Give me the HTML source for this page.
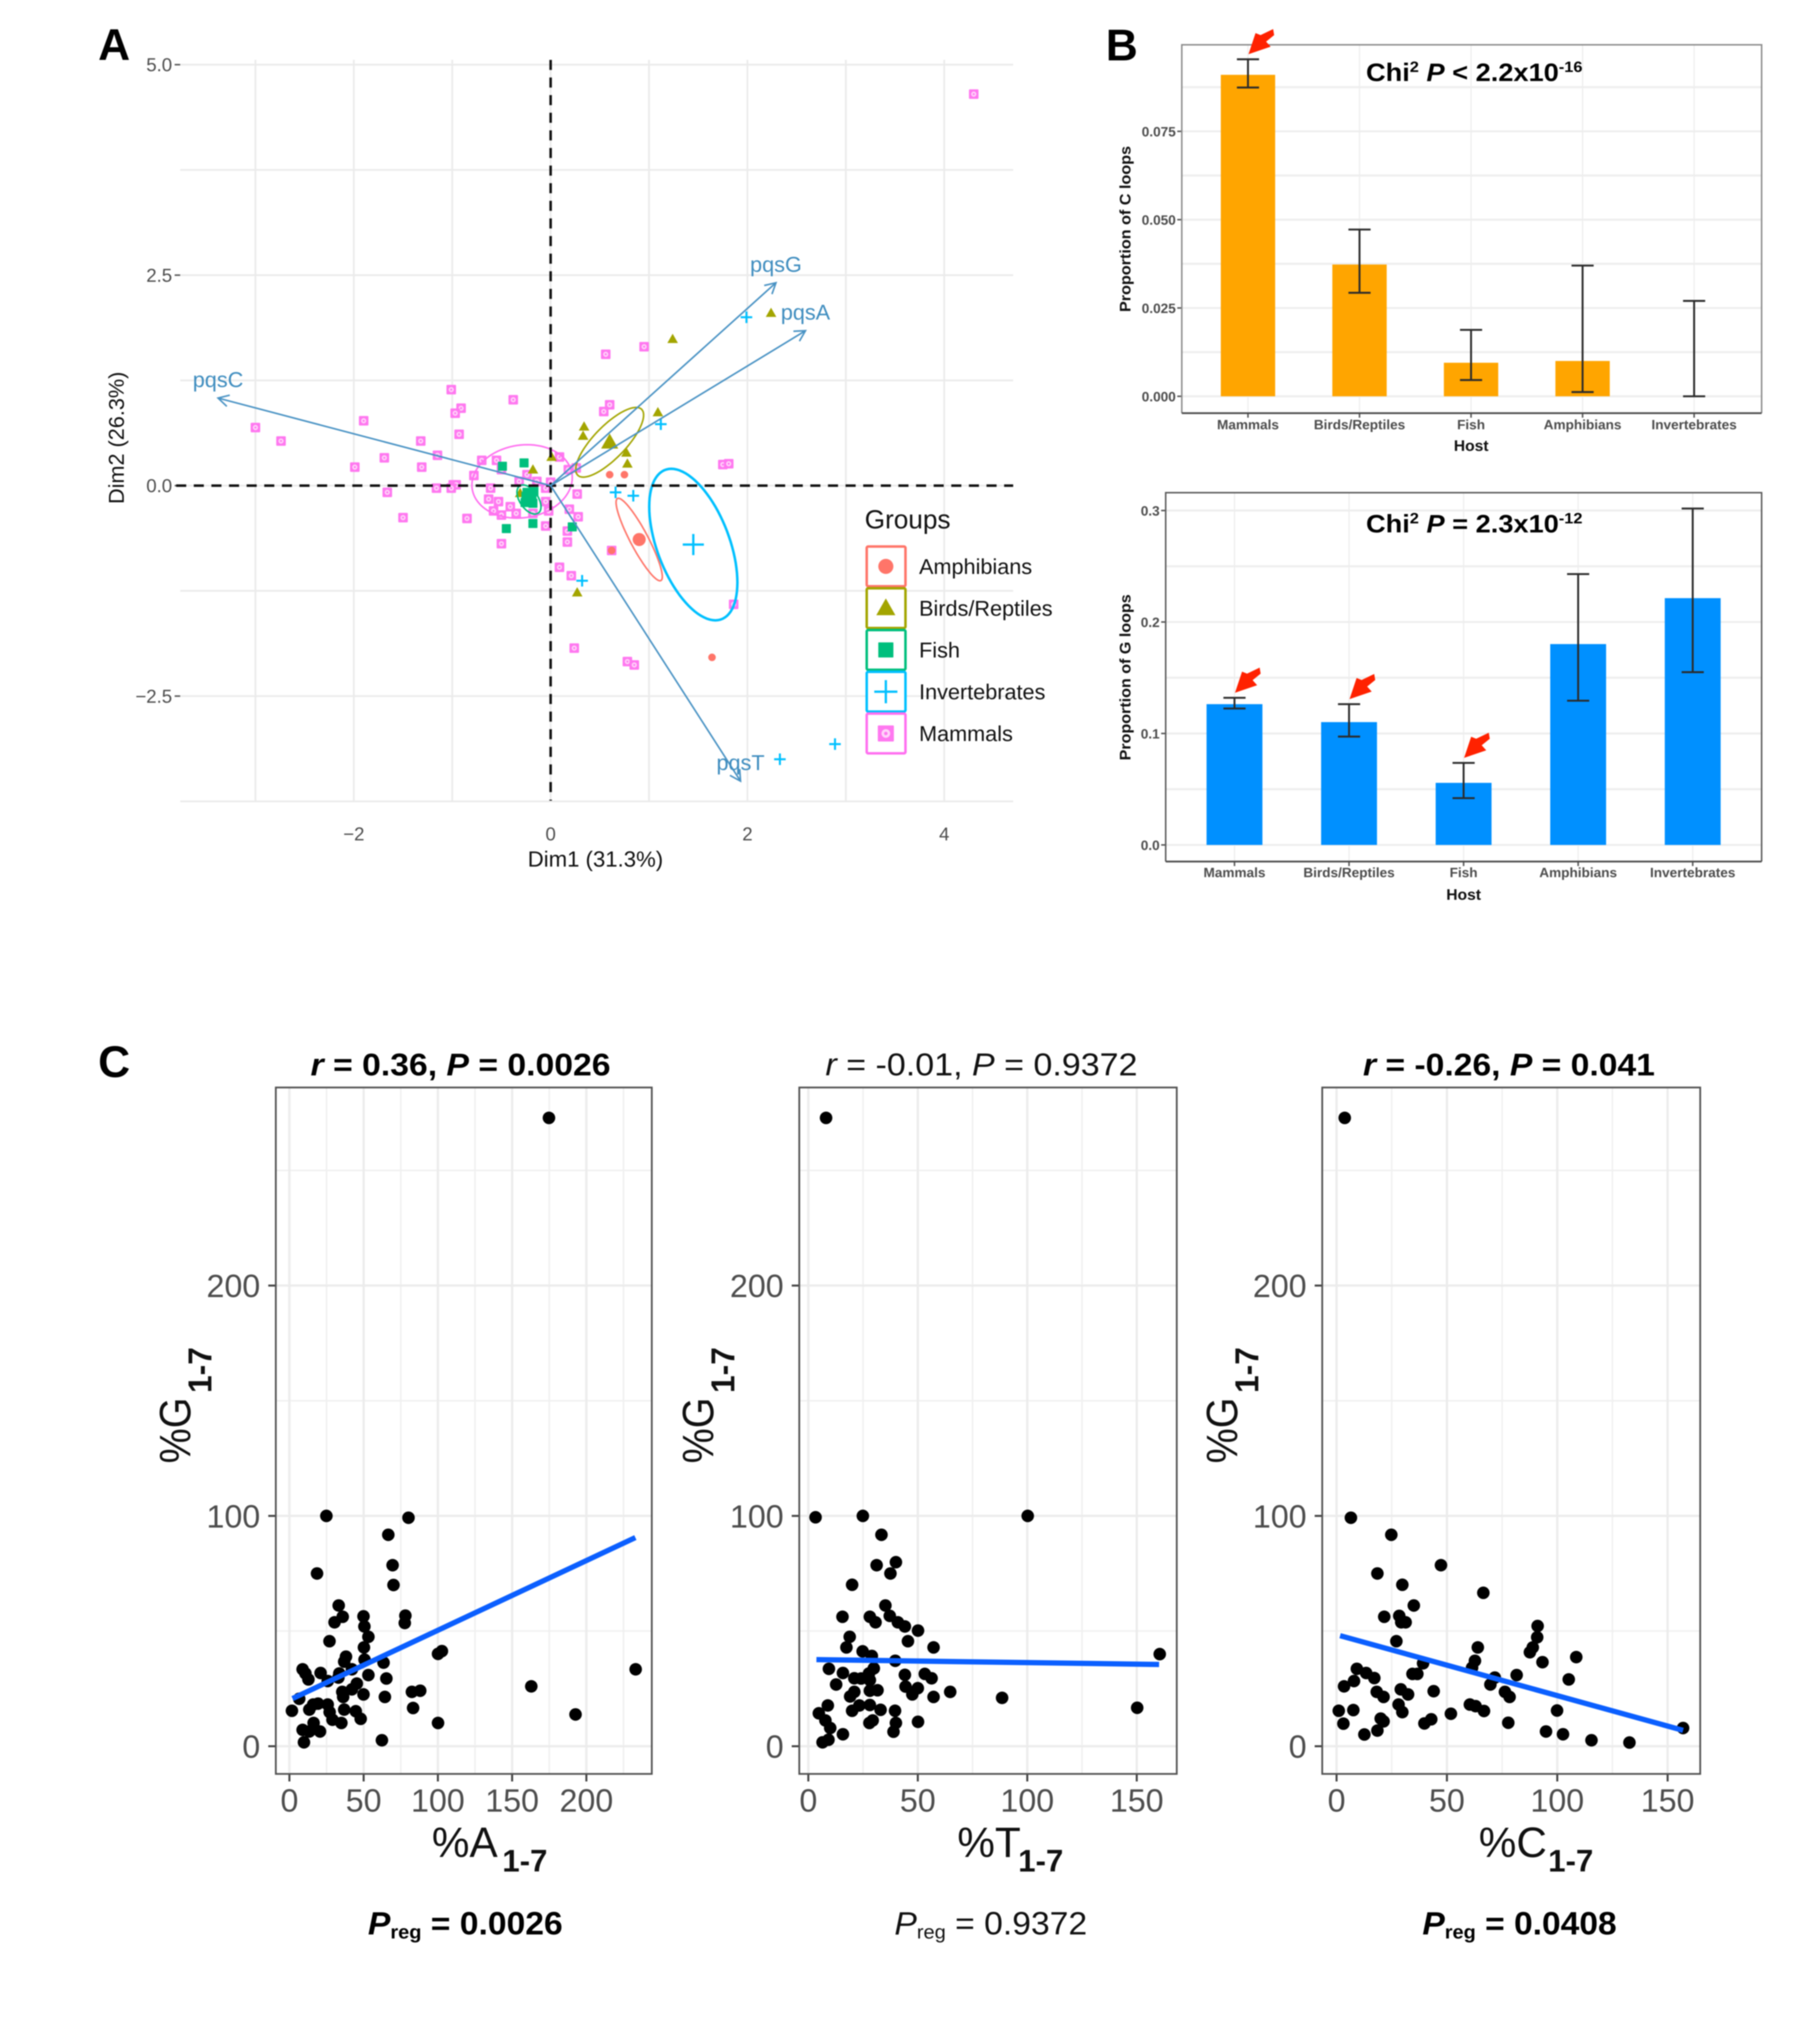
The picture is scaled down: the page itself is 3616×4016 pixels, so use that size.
<!DOCTYPE html>
<html lang="en">
<head>
<meta charset="utf-8">
<title>G-quadruplex loop composition across hosts</title>
<style>
html,body{margin:0;padding:0;background:#fff;}
#figure{display:block;width:3616px;height:4016px;background:#fff;font-family:"Liberation Sans",sans-serif;filter:blur(1.1px);}
</style>
</head>
<body>
<svg id="figure" xmlns="http://www.w3.org/2000/svg" width="3616" height="4016" viewBox="0 0 3616 4016">
  <rect x="0" y="0" width="3616" height="4016" fill="#ffffff"/>

  <text x="195" y="119" font-size="88" font-weight="bold" fill="#000">A</text>
  <text x="2197" y="120" font-size="88" font-weight="bold" fill="#000">B</text>
  <text x="195" y="2140" font-size="88" font-weight="bold" fill="#000">C</text>

  <g id="panel-a"></g>
  <text x="1183" y="1722" font-size="44" text-anchor="middle" fill="#111">Dim1 (31.3%)</text>
  <text transform="rotate(-90 246 870)" x="246" y="870" font-size="43" text-anchor="middle" fill="#111">Dim2 (26.3%)</text>
  <text x="1718" y="1050" font-size="52" fill="#111">Groups</text>

  <g id="panel-b-c"></g>
  <text x="2714" y="161" font-size="50" font-weight="bold" fill="#000" textLength="430" lengthAdjust="spacingAndGlyphs">Chi<tspan font-size="30" dy="-18">2</tspan><tspan dy="18"> </tspan><tspan font-style="italic">P</tspan> &lt; 2.2x10<tspan font-size="30" dy="-18">-16</tspan></text>
  <text x="2923" y="896" font-size="31" font-weight="bold" text-anchor="middle" fill="#111">Host</text>
  <text transform="rotate(-90 2246 455)" x="2246" y="455" font-size="31" font-weight="bold" text-anchor="middle" fill="#111" textLength="330" lengthAdjust="spacingAndGlyphs">Proportion of C loops</text>

  <g id="panel-b-g"></g>
  <text x="2714" y="1058" font-size="50" font-weight="bold" fill="#000" textLength="430" lengthAdjust="spacingAndGlyphs">Chi<tspan font-size="30" dy="-18">2</tspan><tspan dy="18"> </tspan><tspan font-style="italic">P</tspan> = 2.3x10<tspan font-size="30" dy="-18">-12</tspan></text>
  <text x="2908" y="1788" font-size="31" font-weight="bold" text-anchor="middle" fill="#111">Host</text>
  <text transform="rotate(-90 2246 1346)" x="2246" y="1346" font-size="31" font-weight="bold" text-anchor="middle" fill="#111" textLength="330" lengthAdjust="spacingAndGlyphs">Proportion of G loops</text>

  <g id="panel-c-a"></g>
  <g id="panel-c-t"></g>
  <g id="panel-c-c"></g>

  <text x="617" y="2137" font-size="62" font-weight="bold" fill="#000" textLength="596" lengthAdjust="spacingAndGlyphs"><tspan font-style="italic">r</tspan> = 0.36, <tspan font-style="italic">P</tspan> = 0.0026</text>
  <text x="1640" y="2137" font-size="63" fill="#111" textLength="620" lengthAdjust="spacingAndGlyphs"><tspan font-style="italic">r</tspan> = -0.01, <tspan font-style="italic">P</tspan> = 0.9372</text>
  <text x="2708" y="2137" font-size="62" font-weight="bold" fill="#000" textLength="580" lengthAdjust="spacingAndGlyphs"><tspan font-style="italic">r</tspan> = -0.26, <tspan font-style="italic">P</tspan> = 0.041</text>

  <text x="858" y="3690" font-size="84" fill="#111">%A</text>
  <text x="998" y="3719" font-size="62" font-weight="bold" fill="#111">1-7</text>
  <text x="1902" y="3690" font-size="84" fill="#111">%T</text>
  <text x="2023" y="3719" font-size="62" font-weight="bold" fill="#111">1-7</text>
  <text x="2938" y="3690" font-size="84" fill="#111">%C</text>
  <text x="3076" y="3719" font-size="62" font-weight="bold" fill="#111">1-7</text>

  <text transform="rotate(-90 378 2908)" x="378" y="2908" font-size="87" fill="#111" textLength="131" lengthAdjust="spacingAndGlyphs">%G</text>
  <text transform="rotate(-90 420 2768)" x="420" y="2768" font-size="66" font-weight="bold" fill="#111" textLength="91" lengthAdjust="spacingAndGlyphs">1-7</text>
  <text transform="rotate(-90 1417 2908)" x="1417" y="2908" font-size="87" fill="#111" textLength="131" lengthAdjust="spacingAndGlyphs">%G</text>
  <text transform="rotate(-90 1459 2768)" x="1459" y="2768" font-size="66" font-weight="bold" fill="#111" textLength="91" lengthAdjust="spacingAndGlyphs">1-7</text>
  <text transform="rotate(-90 2458 2908)" x="2458" y="2908" font-size="87" fill="#111" textLength="131" lengthAdjust="spacingAndGlyphs">%G</text>
  <text transform="rotate(-90 2500 2768)" x="2500" y="2768" font-size="66" font-weight="bold" fill="#111" textLength="91" lengthAdjust="spacingAndGlyphs">1-7</text>

  <text x="731" y="3844" font-size="64" font-weight="bold" fill="#000" textLength="387" lengthAdjust="spacingAndGlyphs"><tspan font-style="italic">P</tspan><tspan font-size="38" dy="8">reg</tspan><tspan dy="-8"> = 0.0026</tspan></text>
  <text x="1777" y="3844" font-size="64" fill="#111" textLength="383" lengthAdjust="spacingAndGlyphs"><tspan font-style="italic">P</tspan><tspan font-size="38" dy="8">reg</tspan><tspan dy="-8"> = 0.9372</tspan></text>
  <text x="2826" y="3844" font-size="64" font-weight="bold" fill="#000" textLength="386" lengthAdjust="spacingAndGlyphs"><tspan font-style="italic">P</tspan><tspan font-size="38" dy="8">reg</tspan><tspan dy="-8"> = 0.0408</tspan></text>
</svg>

<script>
/* ---------- Panel A data (PCA coordinates, Dim1 / Dim2) ---------- */
const mammals = [[-1.01,1.14],[-.38,1.02],[-.91,.92],[-.97,.86],[.60,.96],[.54,.88],[-1.90,.77],[-.93,.61],[-1.32,.53],[-1.15,.36],[-1.69,.33],[-.70,.30],[-.55,.30],[-1.31,.22],[-1.99,.22],[-.50,.19],[-.78,.12],[-.24,.13],[-.32,.05],[-.14,.05],[.09,.34],[.18,.19],[.26,.21],[-.99,.01],[-.96,.01],[-1.01,-.03],[-1.16,-.03],[-1.66,-.08],[-.61,-.03],[0,.04],[-.05,-.03],[.27,-.10],[-.63,-.16],[-.53,-.19],[-.41,-.25],[-.05,-.19],[.19,-.28],[.28,-.37],[-.58,-.30],[-.50,-.35],[-.35,-.33],[-.02,-.30],[-.18,-.33],[-1.50,-.38],[-.85,-.39],[-.05,-.48],[.17,-.54],[.17,-.67],[-.50,-.69],[.62,-.77],[.09,-.97],[.21,-1.07],[1.86,-1.41],[.24,-1.93],[.78,-2.09],[.85,-2.13],[1.75,.25],[1.81,.26],[4.30,4.65],[.56,1.56],[.95,1.65],[-3.0,.69],[-2.74,.53]];
const birds = [[.34,.70],[.33,.59],[1.09,.87],[.77,.39],[.78,.26],[.01,.34],[-.18,.19],[.27,-1.27],[-.31,-.09],[1.24,1.74],[2.24,2.05]];
const amphibians = [[.60,.13],[.75,.13],[.62,-.77],[1.64,-2.04]];
const fish = [[-.49,.23],[-.27,.27],[-.45,-.51],[-.18,-.45],[.22,-.49],[-.24,-.08],[-.17,-.07],[-.26,-.20],[-.18,-.21]];
const invertebrates = [[1.12,.73],[.66,-.08],[.84,-.12],[.32,-1.13],[1.99,2.0],[2.33,-3.25],[2.89,-3.07]];

const groupNames = ['Amphibians','Birds/Reptiles','Fish','Invertebrates','Mammals'];
const groupColors = ['#ff7569','#a3a500','#00bf7d','#00c0ff','#ff70f0'];
const ellipseCx = [.90,.60,-.22,1.45,-.29];
const ellipseCy = [-.64,.515,-.165,-.70,.05];
const ellipseRx = [.235,.345,.122,.448,.51];
const ellipseRy = [.49,.414,.173,.90,.436];
const ellipseRho = [-.9,.78,-.5,-.5,.1];

const pqsNames = ['pqsC','pqsG','pqsA','pqsT'];
const pqsDim1 = [-3.38,2.29,2.59,1.93];
const pqsDim2 = [1.04,2.41,1.84,-3.51];

const pcaXTicks = [-2,0,2,4];
const pcaXTickLabels = ['\u22122','0','2','4'];
const pcaXGrid = [-3,-2,-1,0,1,2,3,4];
const pcaYTicks = [5,2.5,0,-2.5];
const pcaYTickLabels = ['5.0','2.5','0.0','\u22122.5'];
const pcaYGrid = [5,3.75,2.5,1.25,0,-1.25,-2.5,-3.75];

/* ---------- Panel B data ---------- */
const hostsC = ['Mammals','Birds/Reptiles','Fish','Amphibians','Invertebrates'];
const propC = [.0910,.0373,.0095,.0100,0];
const lowC = [.0874,.0293,.0046,.0012,0];
const highC = [.0954,.0472,.0188,.0370,.0270];
const arrowsC = [0];
const yTicksC = [0,.025,.05,.075];
const yTickLabelsC = ['0.000','0.025','0.050','0.075'];
const yMinorC = [.0125,.0375,.0625,.0875];

const hostsG = ['Mammals','Birds/Reptiles','Fish','Amphibians','Invertebrates'];
const propG = [.1263,.1102,.0557,.1802,.2214];
const lowG = [.1224,.0972,.0420,.1294,.1550];
const highG = [.1320,.1263,.0736,.2430,.3018];
const arrowsG = [0,1,2];
const yTicksG = [0,.1,.2,.3];
const yTickLabelsG = ['0.0','0.1','0.2','0.3'];
const yMinorG = [.05,.15,.25];

/* ---------- Panel C data ([%base, %G]) ---------- */
const pointsA = [[24.9,100],[80.2,99.2],[66.6,91.8],[69.5,78.6],[18.6,75],[70.1,70],[33.2,61.1],[35.9,56.2],[30.4,53.8],[49.9,56.4],[50.5,52],[53.2,47.5],[50.2,42.9],[78.1,56.7],[77.7,53.5],[27,45.6],[102.7,41.3],[100.1,40.1],[38.1,38.9],[36.9,36.7],[50.6,37.6],[63.4,36.3],[8.9,33.4],[10.8,31.6],[12.8,29],[21,31.8],[25.8,28.3],[33,29.8],[33.6,31.6],[42.1,33.4],[53.2,30.9],[65.3,29.4],[45.4,27.2],[42.1,24.7],[35.6,23.6],[36.2,21.4],[49.9,22.5],[64.3,21.4],[82.5,23.6],[88.1,24.1],[6.6,20.6],[1.7,15.4],[13.4,15.9],[16,18.1],[19.3,18.5],[25.8,18.1],[27.1,14.8],[29,11.5],[35,10.1],[36.9,15.9],[44.7,15.2],[48,11.9],[83.3,16.6],[100.1,10.1],[16.3,10.1],[8.9,7.1],[13.4,6.4],[20.6,6.4],[9.8,1.7],[62.3,2.6],[174.8,272.8],[162.9,26],[192.7,13.8],[233.2,33.4]];
const pointsT = [[3.3,99.4],[24.9,100],[100.2,100],[33.4,91.8],[40,79.9],[31.2,78.6],[37.5,75],[20,70.1],[35.2,61.1],[15.6,56.2],[28.1,56.2],[30.7,53.8],[37.2,56.6],[40.9,53.8],[44.1,52],[50.1,50.2],[45.5,45.6],[57.2,42.9],[18.9,47.5],[17.4,42.9],[24.8,41.2],[29,39.2],[39.7,37.1],[29.9,33.8],[9.4,33.6],[15.8,31.8],[21,29.5],[24.1,29.4],[27.7,31.6],[28.1,28.7],[44.1,31],[53.2,31.4],[56.3,29.5],[12.7,26.8],[21,23.6],[19.1,21.6],[28.1,24.1],[31.6,24.3],[44.4,25.9],[50,25.2],[47.5,22.5],[57.2,21.4],[64.8,23.6],[88.5,21],[8.9,17.7],[4.8,14.3],[7.8,11.2],[10,7.9],[9.2,2.8],[6.5,1.7],[15.8,5.2],[20,15.4],[23.3,17.7],[28.1,17.9],[33,15.8],[29.4,11.2],[27.9,10.1],[39.6,15.4],[40,10.1],[38.9,6.3],[50.1,10.6],[8.1,272.8],[150.2,16.7],[160.5,40]];
const pointsC = [[6.5,99.2],[24.8,91.8],[47.3,78.6],[18.5,75],[29.8,70.1],[66.5,66.6],[35,61.1],[21.6,56.2],[28.4,56.6],[29.3,53.8],[31.3,53.8],[91.1,52.2],[90.9,47.3],[27.1,45.6],[64,42.9],[88.9,42.9],[87.6,40.8],[108.6,38.7],[93.3,36.5],[62.7,37.1],[61.4,34.1],[39.2,36],[9.2,33.6],[13.4,31.8],[17.1,29.6],[7.9,28.3],[3.4,26],[34.4,31.4],[36.6,31.4],[71.7,29.8],[69.7,26.8],[81.6,30.9],[105.2,29],[18.2,23.6],[21.3,21.4],[29.1,24.7],[32.4,22.5],[44,23.9],[76.3,23.6],[78.4,21.4],[28.1,18.1],[29.8,14.8],[60.4,18.1],[63,17.4],[66.8,15.3],[99.9,15.5],[1,15.4],[7.6,15.7],[3.1,9.8],[20,12],[21.3,10.8],[18.5,6.8],[12.6,5.1],[39.8,9.9],[42.9,11.7],[51.8,14.1],[77.8,10.2],[94.9,6.4],[102.6,5.2],[115.5,2.6],[3.7,272.8],[132.7,1.6],[157,7.9]];

const fitA = [[2.1,20.7],[233,90.6]];
const fitT = [[3.7,37.6],[160.2,35.5]];
const fitC = [[1.6,48],[157,6.9]];

const xTicksA = [0,50,100,150,200];
const xMinorA = [25,75,125,175,225];
const xTicksT = [0,50,100,150];
const xMinorT = [25,75,125];
const xTicksC = [0,50,100,150];
const xMinorC = [25,75,125];
const yTicksScatter = [0,100,200];
const yMinorScatter = [50,150,250];

/* ---------- helpers ---------- */
const NS = 'http://www.w3.org/2000/svg';
function make(tag, props, parent) {
  const n = document.createElementNS(NS, tag);
  for (const k in props) n.setAttribute(k, props[k]);
  parent.appendChild(n);
  return n;
}
function label(str, props, parent) {
  const n = make('text', props, parent);
  n.textContent = str;
  return n;
}

/* ---------- Panel A ---------- */
const pa = document.getElementById('panel-a');
const ax = v => 1094 + 195.5 * v;
const ay = v => 965 - 167.3 * v;
const paLeft = 358, paRight = 2013, paTop = 119, paBottom = 1591;

pcaXGrid.forEach(v => {
  const g = make('line', {x1: ax(v), x2: ax(v), y1: paTop, y2: paBottom, stroke: '#ebebeb', 'stroke-width': 3.5}, pa);
  
  
});
pcaYGrid.forEach(v => {
  const g = make('line', {x1: paLeft, x2: paRight, y1: ay(v), y2: ay(v), stroke: '#ebebeb', 'stroke-width': 3.5}, pa);
  
  
});
pcaXTicks.forEach((v, i) => {
  const t = label(pcaXTickLabels[i], {x: ax(v), y: 1670, 'font-size': 37, 'text-anchor': 'middle', fill: '#4d4d4d'}, pa);
  
  
});
pcaYTicks.forEach((v, i) => {
  const tk = make('line', {x1: 347, x2: 358, y1: ay(v), y2: ay(v), stroke: '#555', 'stroke-width': 3}, pa);
  
  
  const t = label(pcaYTickLabels[i], {x: 342, y: ay(v) + 13, 'font-size': 37, 'text-anchor': 'end', fill: '#4d4d4d'}, pa);
  
  
});

function drawMammal(x, y, parent, s) {
  const g = make('g', {}, parent);
  make('rect', {x: x - s / 2, y: y - s / 2, width: s, height: s, rx: 2, fill: '#ff78f0'}, g);
  make('circle', {cx: x, cy: y, r: s * 0.27, fill: '#ffd4f9'}, g);
  make('circle', {cx: x, cy: y, r: s * 0.11, fill: '#ff78f0'}, g);
  return g;
}
function drawTriangle(x, y, parent, w, color) {
  const h = w * 0.88;
  return make('polygon', {points: (x - w / 2) + ',' + (y + h * 0.42) + ' ' + (x + w / 2) + ',' + (y + h * 0.42) + ' ' + x + ',' + (y - h * 0.58), fill: color}, parent);
}
function drawPlus(x, y, parent, w, color, sw) {
  const g = make('g', {stroke: color, 'stroke-width': sw, fill: 'none'}, parent);
  make('line', {x1: x - w / 2, x2: x + w / 2, y1: y, y2: y}, g);
  make('line', {x1: x, x2: x, y1: y - w / 2, y2: y + w / 2}, g);
  return g;
}

mammals.forEach(p => {
  const m = drawMammal(ax(p[0]), ay(p[1]), pa, 19);
  
  
});
amphibians.forEach(p => {
  const m = make('circle', {cx: ax(p[0]), cy: ay(p[1]), r: 7.5, fill: groupColors[0]}, pa);
  
  
});
birds.forEach(p => {
  const m = drawTriangle(ax(p[0]), ay(p[1]), pa, 21, groupColors[1]);
  
  
});
fish.forEach(p => {
  const m = make('rect', {x: ax(p[0]) - 9, y: ay(p[1]) - 9, width: 18, height: 18, rx: 1, fill: groupColors[2]}, pa);
  
  
});
invertebrates.forEach(p => {
  const m = drawPlus(ax(p[0]), ay(p[1]), pa, 23, groupColors[3], 4);
  
  
});

groupNames.forEach((g, i) => {
  let d = '';
  for (let k = 0; k <= 90; k++) {
    const t = k / 90 * 2 * Math.PI;
    const ex = ellipseCx[i] + ellipseRx[i] * Math.cos(t);
    const ey = ellipseCy[i] + ellipseRy[i] * (ellipseRho[i] * Math.cos(t) + Math.sqrt(1 - ellipseRho[i] * ellipseRho[i]) * Math.sin(t));
    d += (k ? 'L' : 'M') + ax(ex).toFixed(1) + ' ' + ay(ey).toFixed(1);
  }
  const e = make('path', {d: d + 'Z', fill: 'none', stroke: groupColors[i], 'stroke-width': i === 3 ? 5 : 3.2}, pa);
  
  
});

/* dashed zero lines */
const hz = make('line', {x1: 350, x2: paRight, y1: ay(0), y2: ay(0), stroke: '#111', 'stroke-width': 5, 'stroke-dasharray': '20 15'}, pa);


const vz = make('line', {x1: ax(0), x2: ax(0), y1: paTop, y2: paBottom, stroke: '#111', 'stroke-width': 5, 'stroke-dasharray': '20 15'}, pa);



/* group centroids */
const c0 = make('circle', {cx: ax(ellipseCx[0]), cy: ay(ellipseCy[0]), r: 13, fill: groupColors[0]}, pa);


const c1 = drawTriangle(ax(ellipseCx[1]), ay(ellipseCy[1]), pa, 34, groupColors[1]);


const c2 = make('rect', {x: ax(ellipseCx[2]) - 15, y: ay(ellipseCy[2]) - 15, width: 30, height: 30, fill: groupColors[2]}, pa);


const c3 = drawPlus(ax(ellipseCx[3]), ay(ellipseCy[3]), pa, 42, groupColors[3], 4.5);



/* variable arrows */
pqsNames.forEach((n, i) => {
  const x0 = ax(0), y0 = ay(0), x1 = ax(pqsDim1[i]), y1 = ay(pqsDim2[i]);
  const ang = Math.atan2(y1 - y0, x1 - x0), len = 24, spread = 0.5;
  const hx1 = x1 - len * Math.cos(ang - spread), hy1 = y1 - len * Math.sin(ang - spread);
  const hx2 = x1 - len * Math.cos(ang + spread), hy2 = y1 - len * Math.sin(ang + spread);
  const arrow = make('path', {d: 'M' + x0 + ' ' + y0 + 'L' + x1 + ' ' + y1 + 'M' + hx1 + ' ' + hy1 + 'L' + x1 + ' ' + y1 + 'L' + hx2 + ' ' + hy2, fill: 'none', stroke: '#4a93c4', 'stroke-width': 3.2}, pa);
  
  
  const t = label(n, {x: x1, y: y1 - 22, 'font-size': 43, 'text-anchor': 'middle', fill: '#3f8dbf'}, pa);
  
  
});

/* legend */
groupNames.forEach((g, i) => {
  const top = 1086 + 83 * i, cx = 1760, cy = top + 39.5;
  const box = make('rect', {x: 1722, y: top, width: 77, height: 79, rx: 3, fill: '#fff', stroke: groupColors[i], 'stroke-width': 5}, pa);
  
  
  let mark;
  if (i === 0) mark = make('circle', {cx: cx, cy: cy, r: 15, fill: groupColors[0]}, pa);
  if (i === 1) mark = drawTriangle(cx, cy, pa, 38, groupColors[1]);
  if (i === 2) mark = make('rect', {x: cx - 15, y: cy - 15, width: 30, height: 30, rx: 1, fill: groupColors[2]}, pa);
  if (i === 3) mark = drawPlus(cx, cy, pa, 46, groupColors[3], 4.5);
  if (i === 4) mark = drawMammal(cx, cy, pa, 32);
  
  
  const t = label(g, {x: 1826, y: cy + 15, 'font-size': 43, fill: '#111'}, pa);
  
  
});

/* ---------- Panel B ---------- */
function drawBars(id, cfg) {
  const root = document.getElementById(id);
  const y = cfg.y, bx = cfg.bx;
  cfg.yMinor.concat(cfg.yTicks).forEach(v => {
    const g = make('line', {x1: cfg.left, x2: cfg.right, y1: y(v), y2: y(v), stroke: '#eeeeee', 'stroke-width': 4}, root);
    
    
  });
  cfg.hosts.forEach((h, i) => {
    const g = make('line', {x1: bx(i), x2: bx(i), y1: cfg.top, y2: cfg.bottom, stroke: '#eeeeee', 'stroke-width': 2.5}, root);
    
    
  });
  cfg.hosts.forEach((h, i) => {
    const b = make('rect', {x: bx(i) - cfg.bw / 2, y: y(cfg.prop[i]), width: cfg.bw, height: Math.max(0, y(0) - y(cfg.prop[i])), fill: cfg.color}, root);
    
    
  });
  cfg.hosts.forEach((h, i) => {
    const e = make('path', {d: 'M' + bx(i) + ' ' + y(cfg.high[i]) + 'V' + y(cfg.low[i]) + 'M' + (bx(i) - 22) + ' ' + y(cfg.high[i]) + 'H' + (bx(i) + 22) + 'M' + (bx(i) - 22) + ' ' + y(cfg.low[i]) + 'H' + (bx(i) + 22), fill: 'none', stroke: '#2b2b2b', 'stroke-width': 3.8}, root);
    
    
    const tk = make('line', {x1: bx(i), x2: bx(i), y1: cfg.bottom, y2: cfg.bottom + 9, stroke: '#555', 'stroke-width': 3}, root);
    
    
    const t = label(h, {x: bx(i), y: cfg.catY, 'font-size': 27, 'font-weight': 'bold', 'text-anchor': 'middle', fill: '#4d4d4d'}, root);
    
    
  });
  cfg.yTicks.forEach((v, i) => {
    const tk = make('line', {x1: cfg.left - 9, x2: cfg.left, y1: y(v), y2: y(v), stroke: '#555', 'stroke-width': 3}, root);
    
    
    const t = label(cfg.yLabels[i], {x: cfg.left - 12, y: y(v) + 10, 'font-size': 27, 'font-weight': 'bold', 'text-anchor': 'end', fill: '#4d4d4d'}, root);
    
    
  });
  const f = make('path', {d: 'M' + cfg.left + ' ' + cfg.bottom + 'V' + cfg.top + 'H' + cfg.right + 'V' + cfg.bottom, fill: 'none', stroke: cfg.frame, 'stroke-width': 3}, root);
  
  
  const fb = make('line', {x1: cfg.left, x2: cfg.right, y1: cfg.bottom, y2: cfg.bottom, stroke: '#4a4a4a', 'stroke-width': 3.5}, root);
  
  
  cfg.arrows.forEach(i => {
    const tx = bx(i) + 1, ty = y(cfg.high[i]) - 10;
    const pts = [[0,0],[44,-15],[35,-25],[51,-38],[49,-50],[24,-38],[14,-42]];
    const a = make('polygon', {points: pts.map(p => (tx + p[0]) + ',' + (ty + p[1])).join(' '), fill: '#ff2200'}, root);
    
    
  });
}
drawBars('panel-b-c', {
  hosts: hostsC, prop: propC, low: lowC, high: highC, yTicks: yTicksC, yLabels: yTickLabelsC, yMinor: yMinorC, arrows: arrowsC,
  y: v => 787.5 - 7020 * v, bx: i => 2479.5 + 221.6 * i, bw: 108, color: '#ffa500',
  left: 2348, right: 3500, top: 89, bottom: 821, catY: 853, frame: '#8c8c8c'
});
drawBars('panel-b-g', {
  hosts: hostsG, prop: propG, low: lowG, high: highG, yTicks: yTicksG, yLabels: yTickLabelsG, yMinor: yMinorG, arrows: arrowsG,
  y: v => 1679 - 2215 * v, bx: i => 2452.7 + 227.6 * i, bw: 111, color: '#0090ff',
  left: 2316, right: 3500, top: 979, bottom: 1712, catY: 1743, frame: '#5a5a5a'
});

/* ---------- Panel C ---------- */
const cy = v => 3470 - 4.577 * v;
function drawScatter(id, cfg) {
  const root = document.getElementById(id);
  const top = 2161, bottom = 3525, x = cfg.x;
  cfg.xMinor.forEach(v => {
    const g = make('line', {x1: x(v), x2: x(v), y1: top, y2: bottom, stroke: '#f0f0f0', 'stroke-width': 3}, root);
    
    
  });
  yMinorScatter.forEach(v => {
    const g = make('line', {x1: cfg.left, x2: cfg.right, y1: cy(v), y2: cy(v), stroke: '#f0f0f0', 'stroke-width': 3}, root);
    
    
  });
  cfg.xTicks.forEach(v => {
    const g = make('line', {x1: x(v), x2: x(v), y1: top, y2: bottom, stroke: '#ececec', 'stroke-width': 4.5}, root);
    
    
    const tk = make('line', {x1: x(v), x2: x(v), y1: bottom, y2: bottom + 15, stroke: '#444', 'stroke-width': 4}, root);
    
    
    const t = label(String(v), {x: x(v), y: 3600, 'font-size': 64, 'text-anchor': 'middle', fill: '#4d4d4d'}, root);
    
    
  });
  yTicksScatter.forEach(v => {
    const g = make('line', {x1: cfg.left, x2: cfg.right, y1: cy(v), y2: cy(v), stroke: '#ececec', 'stroke-width': 4.5}, root);
    
    
    const tk = make('line', {x1: cfg.left - 15, x2: cfg.left, y1: cy(v), y2: cy(v), stroke: '#444', 'stroke-width': 4}, root);
    
    
    const t = label(String(v), {x: cfg.left - 31, y: cy(v) + 23, 'font-size': 64, 'text-anchor': 'end', fill: '#4d4d4d'}, root);
    
    
  });
  cfg.points.forEach(p => {
    const d = make('circle', {cx: x(p[0]), cy: cy(p[1]), r: 12.5, fill: '#000'}, root);
    
    
  });
  const fit = make('line', {x1: x(cfg.fit[0][0]), y1: cy(cfg.fit[0][1]), x2: x(cfg.fit[1][0]), y2: cy(cfg.fit[1][1]), stroke: '#0b5fff', 'stroke-width': 10.5}, root);
  
  
  const f = make('rect', {x: cfg.left, y: top, width: cfg.right - cfg.left, height: bottom - top, fill: 'none', stroke: '#525252', 'stroke-width': 3.5}, root);
  
  
}
drawScatter('panel-c-a', {x: v => 575 + 2.95 * v, left: 548, right: 1295, xTicks: xTicksA, xMinor: xMinorA, points: pointsA, fit: fitA});
drawScatter('panel-c-t', {x: v => 1606 + 4.35 * v, left: 1588, right: 2338, xTicks: xTicksT, xMinor: xMinorT, points: pointsT, fit: fitT});
drawScatter('panel-c-c', {x: v => 2655.5 + 4.385 * v, left: 2627, right: 3378, xTicks: xTicksC, xMinor: xMinorC, points: pointsC, fit: fitC});
</script>
</body>
</html>
